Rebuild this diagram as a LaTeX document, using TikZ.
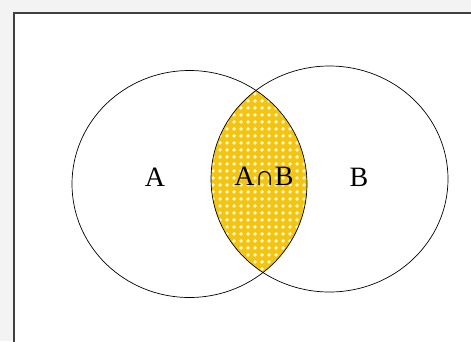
\documentclass[tikz,border=0pt]{standalone}
\usepackage{fontspec}
\setmainfont{Liberation Serif}
\usetikzlibrary{patterns}
\definecolor{lensyellow}{RGB}{242,196,20}
\definecolor{lenslight}{RGB}{255,246,200}
\definecolor{framegray}{RGB}{64,64,64}
\definecolor{backgray}{RGB}{243,243,243}
\pgfdeclarepatternformonly{checker}{\pgfqpoint{0pt}{0pt}}{\pgfqpoint{7pt}{7pt}}{\pgfqpoint{7pt}{7pt}}{
\pgfpathcircle{\pgfqpoint{3.5pt}{3.5pt}}{2.2pt}
\pgfusepath{fill}}
\begin{document}
\begin{tikzpicture}[x=1pt,y=-1pt,
every node/.style={font=\fontsize{28}{32}\selectfont}]
\useasboundingbox (0,0) rectangle (471,341);
\fill[backgray] (0,0) rectangle (471,341);
\clip (0,0) rectangle (471,341);
\draw[framegray,line width=2pt,fill=white] (14,13) rectangle (490,360);
\begin{scope}
\clip (189.5,184) ellipse [x radius=117.5,y radius=113.5];
\fill[lensyellow] (329.5,179) ellipse [x radius=118.5,y radius=113];
\fill[pattern=checker,pattern color=lenslight] (329.5,179) ellipse [x radius=118.5,y radius=113];
\end{scope}
\draw[line width=0.7pt] (189.5,184) ellipse [x radius=117.5,y radius=113.5];
\draw[line width=0.7pt] (329.5,179) ellipse [x radius=118.5,y radius=113];
\node (A) at (155,177) {A};
\node (AB) at (264,176) {A∩B};
\node (B) at (359,177) {B};
\end{tikzpicture}
\end{document}
